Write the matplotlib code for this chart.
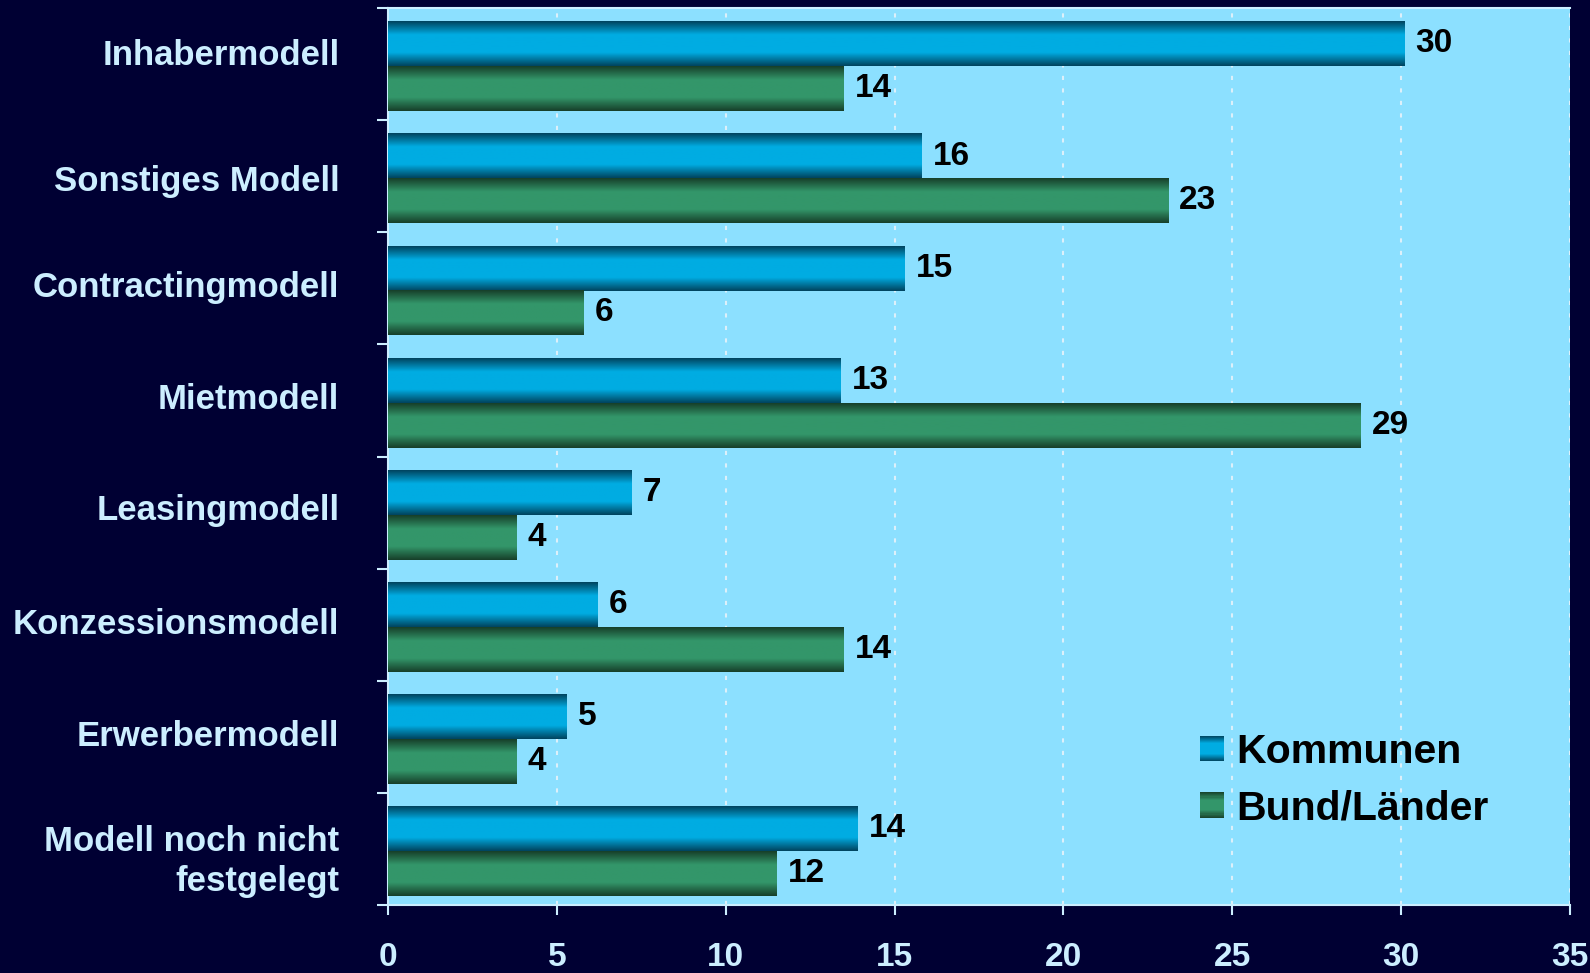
import matplotlib
matplotlib.use("Agg")
import matplotlib.pyplot as plt
import matplotlib.transforms as mtransforms
import numpy as np
from matplotlib.colors import LinearSegmentedColormap
from matplotlib.patches import Patch, Rectangle
from matplotlib.legend_handler import HandlerBase

categories = ["Inhabermodell", "Sonstiges Modell", "Contractingmodell", "Mietmodell",
              "Leasingmodell", "Konzessionsmodell", "Erwerbermodell",
              "Modell noch nicht\nfestgelegt"]
kommunen = [30.1, 15.8, 15.3, 13.4, 7.2, 6.2, 5.3, 13.9]
bund = [13.5, 23.1, 5.8, 28.8, 3.8, 13.5, 3.8, 11.5]
kommunen_labels = ["30", "16", "15", "13", "7", "6", "5", "14"]
bund_labels = ["14", "23", "6", "29", "4", "14", "4", "12"]
series_names = ["Kommunen", "Bund/Länder"]

bg = "#000033"
plot_bg = "#8CE0FF"
light = "#CCEEFF"

blue_cmap = LinearSegmentedColormap.from_list(
    "blue", [(0, "#004560"), (0.3, "#00ACE2"), (0.7, "#00ACE2"), (1, "#004560")])
green_cmap = LinearSegmentedColormap.from_list(
    "green", [(0, "#17402A"), (0.3, "#33966A"), (0.7, "#33966A"), (1, "#17402A")])


class GradientHandler(HandlerBase):
    # legend square with the same vertical shading as the bars
    def __init__(self, cmap):
        super().__init__()
        self.cmap = cmap

    def create_artists(self, legend, orig_handle, xdescent, ydescent, width, height,
                       fontsize, trans):
        n = 24
        arts = []
        for i in range(n):
            r = Rectangle((-xdescent, -ydescent + height * i / n), width, height / n * 1.05,
                          facecolor=self.cmap((i + 0.5) / n), edgecolor='none', transform=trans)
            arts.append(r)
        return arts


plt.rcParams['font.family'] = ['Liberation Sans', 'DejaVu Sans']
plt.rcParams['font.weight'] = 'bold'

fig = plt.figure(figsize=(15.9, 9.73), dpi=100, facecolor=bg)
ax = fig.add_axes([388 / 1590, 1 - 905 / 973, (1570 - 388) / 1590, (905 - 8) / 973])
ax.set_facecolor(plot_bg)

y = np.arange(len(categories))
h = 0.4
bars_k = ax.barh(y - h / 2 + 0.02, kommunen, height=h, color="#00A0D0", zorder=2)
bars_b = ax.barh(y + h / 2 + 0.02, bund, height=h, color="#2E8A5A", zorder=2)

grad = np.linspace(0, 1, 64).reshape(-1, 1)
for bars, cmap in [(bars_k, blue_cmap), (bars_b, green_cmap)]:
    for p in bars:
        x0, y0 = p.get_x(), p.get_y()
        ax.imshow(grad, extent=[x0, x0 + p.get_width(), y0 + p.get_height(), y0],
                  aspect='auto', cmap=cmap, zorder=3, interpolation='bilinear')

for bars, labels in [(bars_k, kommunen_labels), (bars_b, bund_labels)]:
    for p, lab in zip(bars, labels):
        ax.annotate(lab, (p.get_width(), p.get_y() + p.get_height() / 2),
                    xytext=(8, 0), textcoords='offset points', ha='left', va='center',
                    fontsize=24, fontweight='bold', color='black', zorder=5)

ax.set_xlim(0, 35)
ax.set_ylim(len(categories) - 0.5, -0.5)
ax.set_xticks(np.arange(0, 36, 5))
ax.set_yticks(np.arange(len(categories) + 1) - 0.5)
ax.set_yticklabels([])
ax.set_yticks(y, minor=True)
ax.set_yticklabels(categories, minor=True, ha='right', linespacing=1.25)
ax.tick_params(axis='y', which='major', length=8, width=1.5, color=light, direction='out')
ax.tick_params(axis='y', which='minor', length=0, pad=35, labelsize=25, labelcolor=light)
ax.tick_params(axis='x', length=7, width=1.5, color=light, pad=20, labelsize=24, labelcolor=light)

# small vertical nudges (pixels, up positive) of the category labels
nudges = [12, -2, 4, 4, 6, 4, 4, -6]
for t, dy in zip(ax.get_yticklabels(minor=True), nudges):
    t.set_fontweight('bold')
    t.set_transform(t.get_transform() + mtransforms.ScaledTranslation(0, dy / 100, fig.dpi_scale_trans))
for t in ax.get_xticklabels():
    t.set_fontweight('bold')

ax.grid(axis='x', color='#DDF0FA', linewidth=1.5, dashes=(2, 4))
ax.set_axisbelow(True)
for side in ['left', 'bottom', 'top']:
    ax.spines[side].set_color(light)
    ax.spines[side].set_linewidth(1.5)
ax.spines['right'].set_visible(False)

handles = [Patch(facecolor="#00A8DC"), Patch(facecolor="#2F8E5E")]
ax.legend(handles, series_names, loc='upper left', frameon=False,
          bbox_to_anchor=(1200 / 1590, 1 - 733 / 973), bbox_transform=fig.transFigure,
          prop={'size': 29.5, 'weight': 'bold'}, handlelength=0.58, handleheight=0.58,
          handletextpad=0.3, labelspacing=0.45, borderpad=0, borderaxespad=0,
          handler_map={handles[0]: GradientHandler(blue_cmap),
                       handles[1]: GradientHandler(green_cmap)})

fig.savefig("out.png", dpi=100, facecolor=bg)
